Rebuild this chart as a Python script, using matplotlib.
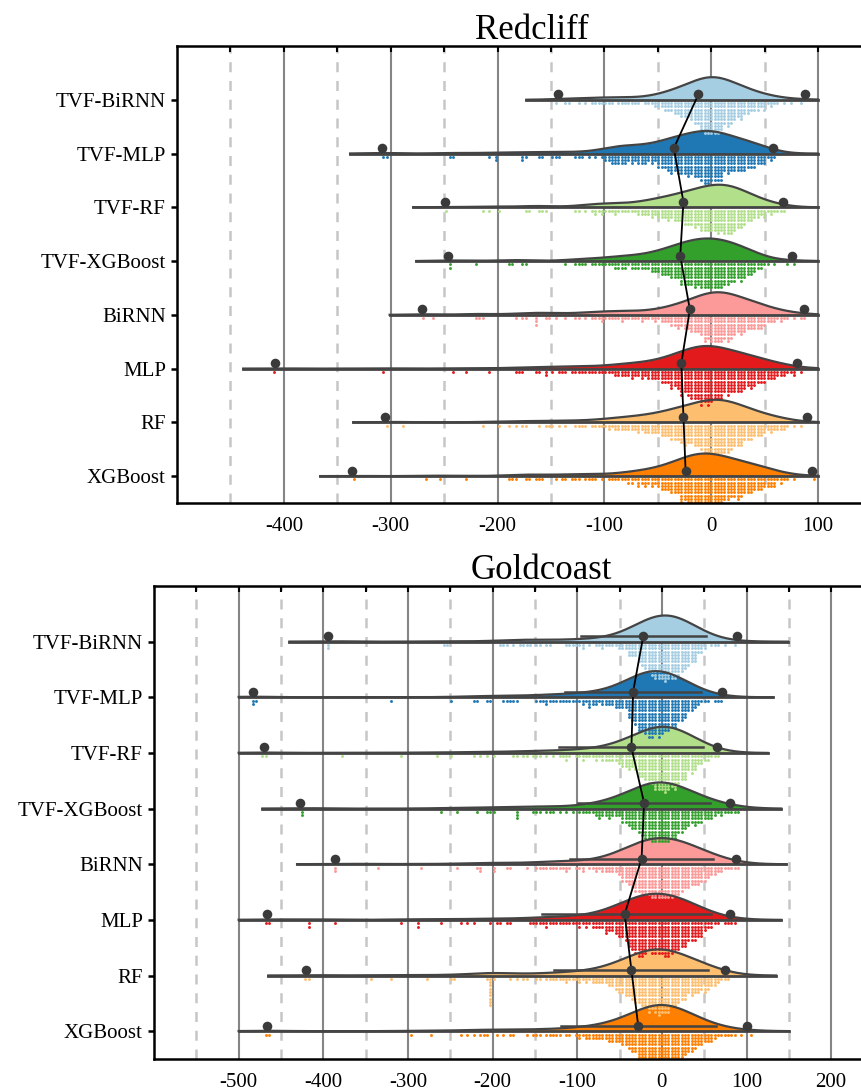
import numpy as np
import matplotlib.pyplot as plt

plt.rcParams['font.family'] = ['Liberation Serif', 'DejaVu Serif']

models = ['TVF-BiRNN', 'TVF-MLP', 'TVF-RF', 'TVF-XGBoost', 'BiRNN', 'MLP', 'RF', 'XGBoost']
colors = ['#a6cee3', '#1f78b4', '#b2df8a', '#33a02c', '#fb9a99', '#e31a1c', '#fdbf6f', '#ff7f00']

# ---- Redcliff: counts per 10-wide bin starting at -150, plus single far-left values
rc_bin0 = -150
rc_counts = [
    [1, 2, 1, 2, 3, 3, 3, 3, 2, 4, 8, 12, 16, 22, 32, 32, 24, 18, 12, 8, 5, 2, 1, 1, 0],
    [3, 0, 3, 1, 2, 8, 10, 8, 9, 8, 14, 18, 20, 22, 28, 26, 18, 16, 14, 10, 5, 0, 0, 0, 0],
    [0, 0, 2, 2, 5, 4, 4, 3, 6, 8, 10, 12, 15, 18, 22, 24, 26, 20, 14, 8, 5, 3, 0, 0, 0],
    [0, 1, 3, 2, 3, 4, 6, 6, 6, 9, 12, 16, 22, 24, 26, 26, 22, 18, 14, 6, 2, 0, 2, 0, 0],
    [1, 1, 2, 2, 4, 3, 5, 3, 4, 4, 6, 10, 12, 16, 24, 26, 24, 18, 14, 12, 7, 4, 2, 2, 0],
    [2, 3, 3, 3, 3, 4, 6, 8, 7, 10, 12, 18, 24, 30, 34, 30, 24, 22, 18, 14, 10, 6, 4, 1, 0],
    [2, 1, 3, 2, 3, 5, 6, 7, 8, 10, 12, 16, 20, 22, 28, 30, 28, 22, 16, 12, 8, 6, 2, 1, 0],
    [1, 3, 2, 3, 2, 2, 4, 5, 8, 8, 12, 16, 24, 30, 30, 28, 22, 20, 16, 12, 10, 4, 2, 0, 1],
]
rc_tails = [
    [],
    [-308, -305, -245, -242, -207, -203, -200, -176, -176, -175, -160, -159],
    [-249, -214, -208, -199, -173, -170, -160, -158, -156],
    [-246, -245, -221, -190, -186, -176, -175],
    [-271, -261, -220, -217, -215, -182, -178, -175, -163, -163, -163, -154, -152],
    [-408, -308, -241, -229, -208, -184, -180, -176, -164, -160, -156, -156],
    [-305, -288, -215, -198, -190, -184, -178, -174, -160, -155, -152],
    [-336, -267, -253, -228, -188, -185, -182, -174, -170, -165, -160, -158],
]
rc_min = [-143, -308, -249, -246, -271, -408, -305, -336]
rc_mean = [-12, -35, -26, -29, -20, -28, -26, -24]
rc_max = [88, 58, 67, 76, 87, 80, 90, 94]

# ---- Goldcoast
gc_bin0 = -150
gc_counts = [
    [2, 2, 0, 1, 3, 3, 1, 3, 3, 3, 6, 10, 16, 24, 28, 30, 28, 22, 16, 8, 2, 2, 1, 1, 0, 0],
    [3, 3, 3, 2, 3, 3, 6, 4, 5, 7, 8, 18, 26, 30, 30, 26, 22, 16, 10, 4, 1, 3, 0, 0, 0, 0],
    [2, 1, 2, 3, 2, 3, 3, 4, 5, 6, 10, 12, 18, 22, 28, 30, 26, 20, 14, 8, 4, 2, 0, 0, 0, 0],
    [2, 2, 2, 1, 1, 2, 3, 6, 6, 5, 10, 14, 20, 24, 26, 26, 22, 16, 12, 10, 8, 4, 3, 3, 0, 0],
    [3, 2, 3, 3, 2, 3, 2, 4, 5, 6, 12, 18, 22, 24, 26, 26, 24, 20, 16, 14, 10, 6, 3, 3, 0, 0],
    [3, 3, 3, 2, 3, 4, 4, 5, 8, 10, 14, 24, 28, 24, 26, 28, 24, 20, 16, 12, 6, 2, 2, 2, 0, 0],
    [2, 2, 3, 3, 3, 4, 4, 5, 6, 10, 14, 18, 22, 26, 30, 28, 22, 18, 14, 12, 10, 6, 2, 0, 0, 0],
    [2, 2, 3, 1, 2, 4, 5, 5, 6, 8, 10, 14, 22, 26, 30, 30, 26, 20, 14, 10, 8, 4, 2, 2, 1, 1],
]
gc_tails = [
    [-395, -394, -259, -255, -190, -186, -183, -177, -166, -164, -158, -156],
    [-483, -482, -481, -320, -249, -222, -219, -206, -201, -188, -184, -180, -176, -172],
    [-470, -469, -380, -307, -267, -249, -222, -215, -205, -198, -177, -170, -165, -158, -152],
    [-427, -426, -260, -242, -218, -205, -203, -197, -173, -171, -170, -152],
    [-386, -385, -336, -286, -242, -218, -216, -214, -200, -198, -183, -179, -160],
    [-467, -466, -419, -418, -387, -309, -290, -287, -261, -237, -230, -223, -202, -196,
     -190, -184, -178, -157, -153],
    [-420, -419, -343, -320, -275, -248, -247, -207, -203, -203, -203, -203, -203, -203,
     -203, -203, -203, -199, -180, -172, -165, -158],
    [-467, -466, -296, -274, -237, -230, -224, -216, -210, -205, -194, -186, -180, -175,
     -159, -152],
]
gc_min = [-395, -483, -470, -427, -386, -467, -420, -467]
gc_mean = [-22, -34, -36, -21, -24, -44, -36, -28]
gc_max = [89, 71, 65, 81, 87, 81, 75, 101]
gc_lo = [-95, -114, -122, -99, -108, -142, -127, -119]
gc_hi = [52, 46, 49, 57, 60, 58, 55, 64]

dark = '#444444'


def panel(ax, title, title_x, bin0, counts, tails, mins, means, maxs, colw, dy, bw,
          peak, cut_l, cut_r, clip, xlim, ticks, lo=None, hi=None):
    rows = np.arange(len(models))
    for r in rows:
        cnt = np.array(counts[r], float)
        edges = bin0 + 10 * np.arange(len(cnt))
        vals = np.concatenate([np.array(tails[r], float), edges + 5])
        wts = np.concatenate([np.ones(len(tails[r])), cnt])

        # half violin (kde) above the baseline
        x0 = max(clip[0], mins[r] - cut_l)
        x1 = min(clip[1], maxs[r] + cut_r)
        grid = np.linspace(x0, x1, 400)
        d = (grid[:, None] - vals[None, :]) / bw
        dens = (np.exp(-0.5 * d ** 2) * wts).sum(1)
        dens = dens / dens.max() * peak
        ax.fill_between(grid, r, r - dens, color=colors[r], lw=0, zorder=2)
        ax.plot(grid, r - dens, color=dark, lw=1.6, zorder=3)
        ax.plot([x0, x1], [r, r], color=dark, lw=2.0, zorder=3)

        # stacked dots below the baseline
        cols = {}
        for v in tails[r]:
            k = int(round(v / colw))
            cols[k] = cols.get(k, 0) + 1
        acc = 0.0
        for k in range(int(np.floor(edges[0] / colw)), int(np.ceil((edges[-1] + 10) / colw)) + 1):
            a, b = (k - 0.5) * colw, (k + 0.5) * colw
            ov = np.clip(np.minimum(b, edges + 10) - np.maximum(a, edges), 0, None)
            acc += (cnt * ov / 10).sum()
            n = int(round(acc))
            acc -= n
            if n > 0:
                cols[k] = cols.get(k, 0) + n
        xs, ys = [], []
        for k, h in cols.items():
            for j in range(h):
                xs.append(k * colw)
                ys.append(r + 0.06 + j * dy)
        ax.scatter(xs, ys, s=4.4, color=colors[r], lw=0, zorder=2.5)

        if lo is not None:
            ax.plot([lo[r], hi[r]], [r - 0.1, r - 0.1], color=dark, lw=1.8, zorder=4)

    ax.plot(means, rows - 0.1, color='k', lw=1.3, zorder=5)
    for arr in (mins, means, maxs):
        ax.scatter(arr, rows - 0.1, s=48, color='#3a3a3a', lw=0, zorder=6)

    ax.set_xlim(*xlim)
    ax.set_ylim(7.5, -1)
    ax.set_yticks(rows)
    ax.set_yticklabels(models)
    ax.set_xticks(ticks)
    ax.set_xticklabels([str(t) for t in ticks])
    ax.set_xticks(np.arange(xlim[0] + 50, xlim[1], 100), minor=True)
    ax.set_axisbelow(True)
    ax.grid(which='major', axis='x', color='#858585', lw=1.5)
    ax.grid(which='minor', axis='x', color='#c6c6c6', lw=1.8, ls=(0, (4, 3.5)))
    ax.tick_params(axis='x', which='both', bottom=False, top=True, direction='in',
                   length=4, width=1.5, labelsize=15, pad=10)
    ax.tick_params(axis='y', direction='out', length=4, width=1.8, labelsize=15, pad=4)
    for s in ('left', 'top', 'bottom'):
        ax.spines[s].set_linewidth(1.8)
    ax.spines['right'].set_visible(False)
    ax.set_title(title, fontsize=25, pad=5, x=title_x)


fig = plt.figure(figsize=(8.62, 10.91), dpi=100)
ax1 = fig.add_axes([177 / 862, 1 - 503 / 1091, (871.5 - 177) / 862, (503 - 46) / 1091])
ax2 = fig.add_axes([154 / 862, 1 - 1059 / 1091, (873.5 - 154) / 862, (1059 - 586) / 1091])

panel(ax1, 'Redcliff', 0.511, rc_bin0, rc_counts, rc_tails, rc_min, rc_mean, rc_max,
      colw=3.1, dy=0.061, bw=15, peak=0.42, cut_l=30, cut_r=45, clip=(-500, 100),
      xlim=(-500, 150), ticks=[-400, -300, -200, -100, 0, 100])
panel(ax2, 'Goldcoast', 0.539, gc_bin0, gc_counts, gc_tails, gc_min, gc_mean, gc_max,
      colw=3.9, dy=0.059, bw=25, peak=0.47, cut_l=45, cut_r=60, clip=(-500, 150),
      xlim=(-600, 250), ticks=[-500, -400, -300, -200, -100, 0, 100, 200],
      lo=gc_lo, hi=gc_hi)

fig.savefig('out.png', dpi=100)
